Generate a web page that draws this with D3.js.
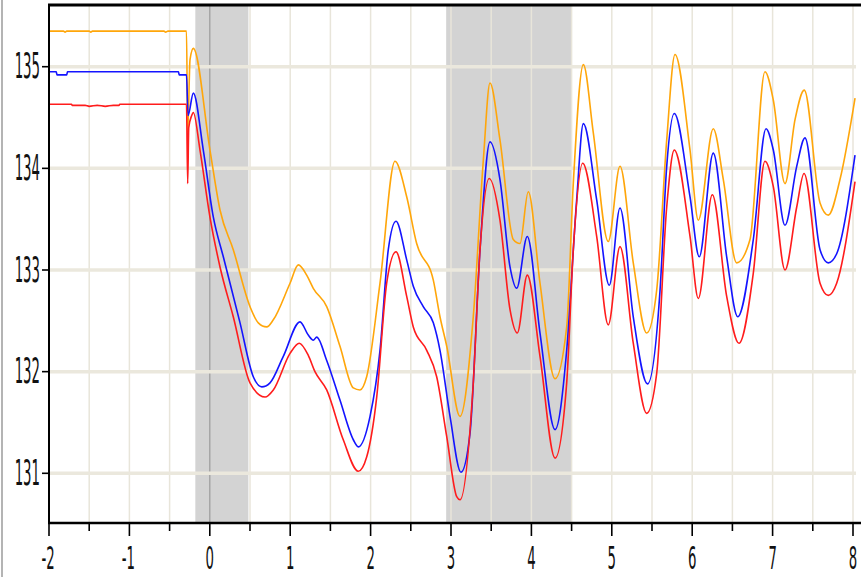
<!DOCTYPE html>
<html>
<head>
<meta charset="utf-8">
<script src="https://cdn.jsdelivr.net/npm/d3@7"></script>
<style>
  html, body { margin: 0; padding: 0; background: #ffffff; }
  svg { display: block; }
  .lbl { font-family: "Liberation Sans Narrow", "DejaVu Sans Condensed", "Liberation Sans", sans-serif; font-size: 18px; fill: #111; }
</style>
</head>
<body>
<script>
// ---------- data ----------
const xTicks = [-2, -1, 0, 1, 2, 3, 4, 5, 6, 7, 8];
const xMinorTicks = [-1.5, -0.5, 0.5, 1.5, 2.5, 3.5, 4.5, 5.5, 6.5, 7.5];
const yTicks = [131, 132, 133, 134, 135];
const shadeBands = [[-0.18, 0.48], [2.94, 4.50]];

const orangeSeries = [
  [-2.00, 135.35], [-1.82, 135.35], [-1.80, 135.34], [-1.78, 135.35], [-1.50, 135.35], [-1.48, 135.34], [-1.46, 135.35],
  [-0.57, 135.35], [-0.55, 135.34], [-0.52, 135.35], [-0.29, 135.35], [-0.275, 134.35], [-0.246, 135.07], [-0.205, 135.18],
  [0.002, 134.18], [0.127, 133.59], [0.292, 133.20], [0.500, 132.64], [0.603, 132.48], [0.708, 132.44], [0.790, 132.51],
  [0.998, 132.87], [1.101, 133.05], [1.205, 132.95], [1.287, 132.82], [1.454, 132.64], [1.619, 132.25], [1.785, 131.84],
  [1.868, 131.82], [1.951, 131.95], [2.117, 132.87], [2.303, 134.07], [2.449, 133.72], [2.573, 133.26], [2.780, 132.90],
  [2.863, 132.54], [2.947, 132.25], [3.112, 131.56], [3.277, 132.54], [3.402, 134.08], [3.485, 134.84], [3.609, 134.28],
  [3.775, 133.30], [3.858, 133.26], [3.961, 133.77], [4.107, 132.87], [4.294, 131.93], [4.439, 132.44], [4.521, 133.85],
  [4.646, 135.02], [4.770, 134.35], [4.956, 133.28], [5.102, 134.02], [5.267, 133.07], [5.434, 132.38], [5.558, 132.80],
  [5.683, 134.28], [5.786, 135.12], [5.973, 134.18], [6.076, 133.49], [6.262, 134.39], [6.387, 133.89], [6.553, 133.07],
  [6.719, 133.30], [6.905, 134.95], [7.009, 134.67], [7.154, 133.85], [7.279, 134.48], [7.394, 134.77], [7.590, 133.66],
  [7.693, 133.54], [7.838, 133.89], [8.025, 134.69]
];

const blueSeries = [
  [-2.00, 134.95], [-1.91, 134.95], [-1.90, 134.92], [-1.78, 134.92], [-1.77, 134.95], [-0.39, 134.95], [-0.38, 134.92],
  [-0.29, 134.92], [-0.271, 134.52], [-0.205, 134.74], [-0.081, 134.18], [0.044, 133.52], [0.168, 133.13], [0.376, 132.48],
  [0.541, 131.95], [0.646, 131.85], [0.749, 131.89], [0.914, 132.15], [1.122, 132.49], [1.225, 132.36], [1.287, 132.31],
  [1.330, 132.34], [1.454, 132.11], [1.619, 131.72], [1.785, 131.33], [1.847, 131.26], [1.993, 131.56], [2.117, 132.21],
  [2.220, 133.20], [2.316, 133.48], [2.449, 133.10], [2.531, 132.84], [2.655, 132.64], [2.780, 132.48], [2.863, 132.21],
  [2.988, 131.56], [3.124, 131.01], [3.236, 131.39], [3.361, 133.20], [3.485, 134.26], [3.609, 133.89], [3.734, 133.03],
  [3.817, 132.82], [3.949, 133.33], [4.107, 132.38], [4.294, 131.43], [4.439, 132.21], [4.563, 133.69], [4.646, 134.44],
  [4.812, 133.69], [4.969, 132.85], [5.102, 133.61], [5.267, 132.54], [5.444, 131.88], [5.600, 132.80], [5.683, 134.02],
  [5.777, 134.54], [5.973, 133.72], [6.088, 133.13], [6.262, 134.15], [6.429, 133.13], [6.566, 132.54], [6.760, 133.30],
  [6.918, 134.39], [7.009, 134.18], [7.154, 133.44], [7.300, 134.02], [7.403, 134.30], [7.590, 133.20], [7.693, 133.07],
  [7.797, 133.16], [8.025, 134.13]
];

const redSeries = [
  [-2.00, 134.63], [-1.72, 134.63], [-1.71, 134.62], [-1.55, 134.62], [-1.50, 134.61], [-1.40, 134.62], [-1.30, 134.61],
  [-1.20, 134.62], [-1.13, 134.62], [-1.12, 134.63], [-0.29, 134.63], [-0.275, 133.85], [-0.262, 134.40], [-0.225, 134.52],
  [-0.205, 134.55], [-0.122, 134.18], [0.002, 133.52], [0.127, 133.03], [0.292, 132.54], [0.500, 131.89], [0.687, 131.75],
  [0.790, 131.82], [0.998, 132.18], [1.113, 132.28], [1.225, 132.16], [1.308, 132.00], [1.454, 131.82], [1.660, 131.33],
  [1.847, 131.02], [1.951, 131.16], [2.076, 131.75], [2.200, 132.87], [2.316, 133.18], [2.449, 132.74], [2.531, 132.44],
  [2.698, 132.21], [2.822, 131.95], [2.947, 131.36], [3.071, 130.77], [3.112, 130.74], [3.277, 131.89], [3.361, 133.20],
  [3.476, 133.90], [3.609, 133.49], [3.734, 132.61], [3.825, 132.38], [3.949, 132.95], [4.107, 132.15], [4.294, 131.15],
  [4.439, 131.89], [4.521, 133.20], [4.638, 134.05], [4.812, 133.33], [4.956, 132.46], [5.102, 133.23], [5.267, 132.28],
  [5.434, 131.59], [5.558, 131.98], [5.683, 133.62], [5.777, 134.18], [5.973, 133.33], [6.076, 132.72], [6.250, 133.74],
  [6.429, 132.74], [6.582, 132.28], [6.760, 132.97], [6.905, 134.07], [7.009, 133.82], [7.154, 133.00], [7.300, 133.62],
  [7.391, 133.95], [7.590, 132.87], [7.693, 132.75], [7.797, 132.87], [8.025, 133.87]
];

const seriesList = [
  { name: "orange", data: orangeSeries, color: "#ffa60a" },
  { name: "blue", data: blueSeries, color: "#1414ff" },
  { name: "red", data: redSeries, color: "#ff1c1c" }
];

// ---------- layout ----------
const W = 861, H = 577;
const plotLeft = 49, plotRight = 856, plotTop = 5, plotBottom = 523;

const x = d3.scaleLinear().domain([-2, 8]).range([49, 853]);
const y = d3.scaleLinear().domain([131, 135]).range([473.3, 66.7]);

const svg = d3.select("body").append("svg").attr("width", W).attr("height", H);

// left outer gray border
svg.append("line").attr("x1", 2).attr("x2", 2).attr("y1", 0).attr("y2", H)
  .attr("stroke", "#b4b4b4").attr("stroke-width", 2);

svg.append("defs").append("clipPath").attr("id", "plotclip")
  .append("rect").attr("x", plotLeft).attr("y", plotTop).attr("width", plotRight - plotLeft).attr("height", plotBottom - plotTop);

const plot = svg.append("g").attr("clip-path", "url(#plotclip)");

// shaded bands
plot.selectAll("rect.band").data(shadeBands).join("rect")
  .attr("class", "band")
  .attr("x", d => x(d[0])).attr("width", d => x(d[1]) - x(d[0]))
  .attr("y", plotTop).attr("height", plotBottom - plotTop)
  .attr("fill", "#d3d3d3");

// vertical grid
const vGrid = xMinorTicks.concat(xTicks.filter(t => t !== -2));
plot.selectAll("line.vgrid").data(vGrid).join("line")
  .attr("class", "vgrid")
  .attr("x1", d => x(d)).attr("x2", d => x(d))
  .attr("y1", plotTop).attr("y2", plotBottom)
  .attr("stroke", d => d === 0 ? "#9c9c9c" : "#e8e5da")
  .attr("stroke-width", d => d === 0 ? 1.2 : 1.5);

// horizontal grid
plot.selectAll("line.hgrid").data(yTicks).join("line")
  .attr("class", "hgrid")
  .attr("x1", plotLeft).attr("x2", plotRight)
  .attr("y1", d => y(d)).attr("y2", d => y(d))
  .attr("stroke", "#ebe8dd").attr("stroke-width", 3.5);

// series lines
const line = d3.line().x(d => x(d[0])).y(d => y(d[1])).curve(d3.curveMonotoneX);
plot.selectAll("path.series").data(seriesList).join("path")
  .attr("class", "series")
  .attr("d", d => line(d.data))
  .attr("fill", "none")
  .attr("stroke", d => d.color)
  .attr("stroke-width", 1.6)
  .attr("stroke-linejoin", "round");

// frame: top border and axes
svg.append("line").attr("x1", plotLeft - 1).attr("x2", W).attr("y1", 5).attr("y2", 5)
  .attr("stroke", "#000").attr("stroke-width", 3);
svg.append("line").attr("x1", plotLeft).attr("x2", plotLeft).attr("y1", 4).attr("y2", plotBottom + 1)
  .attr("stroke", "#000").attr("stroke-width", 2);
svg.append("line").attr("x1", plotLeft - 1).attr("x2", W).attr("y1", plotBottom).attr("y2", plotBottom)
  .attr("stroke", "#000").attr("stroke-width", 2.5);

// x ticks
svg.selectAll("line.xmaj").data(xTicks).join("line")
  .attr("x1", d => x(d)).attr("x2", d => x(d))
  .attr("y1", plotBottom).attr("y2", plotBottom + 13)
  .attr("stroke", "#000").attr("stroke-width", 1.6);
svg.selectAll("line.xmin").data(xMinorTicks).join("line")
  .attr("x1", d => x(d)).attr("x2", d => x(d))
  .attr("y1", plotBottom).attr("y2", plotBottom + 8)
  .attr("stroke", "#000").attr("stroke-width", 1.6);

// y ticks
svg.selectAll("line.ytick").data(yTicks).join("line")
  .attr("x1", plotLeft - 7).attr("x2", plotLeft)
  .attr("y1", d => y(d)).attr("y2", d => y(d))
  .attr("stroke", "#000").attr("stroke-width", 1.6);

// tall condensed labels
const sx = 0.82, fs = 18;
const baseOff = 0.358 * fs;

svg.selectAll("g.xl").data(xTicks).join("g")
  .attr("transform", d => `translate(${x(d) + (d < 0 ? -1 : 0)},557) scale(${sx},1.82)`)
  .append("text").attr("class", "lbl")
  .attr("text-anchor", "middle").attr("y", baseOff)
  .text(d => d3.format("d")(d).replace("−", "-"));

svg.selectAll("g.yl").data(yTicks).join("g")
  .attr("transform", d => `translate(40,${y(d) - 1}) scale(${sx},1.95)`)
  .append("text").attr("class", "lbl")
  .attr("text-anchor", "end").attr("y", baseOff)
  .text(d => d);
</script>
</body>
</html>
